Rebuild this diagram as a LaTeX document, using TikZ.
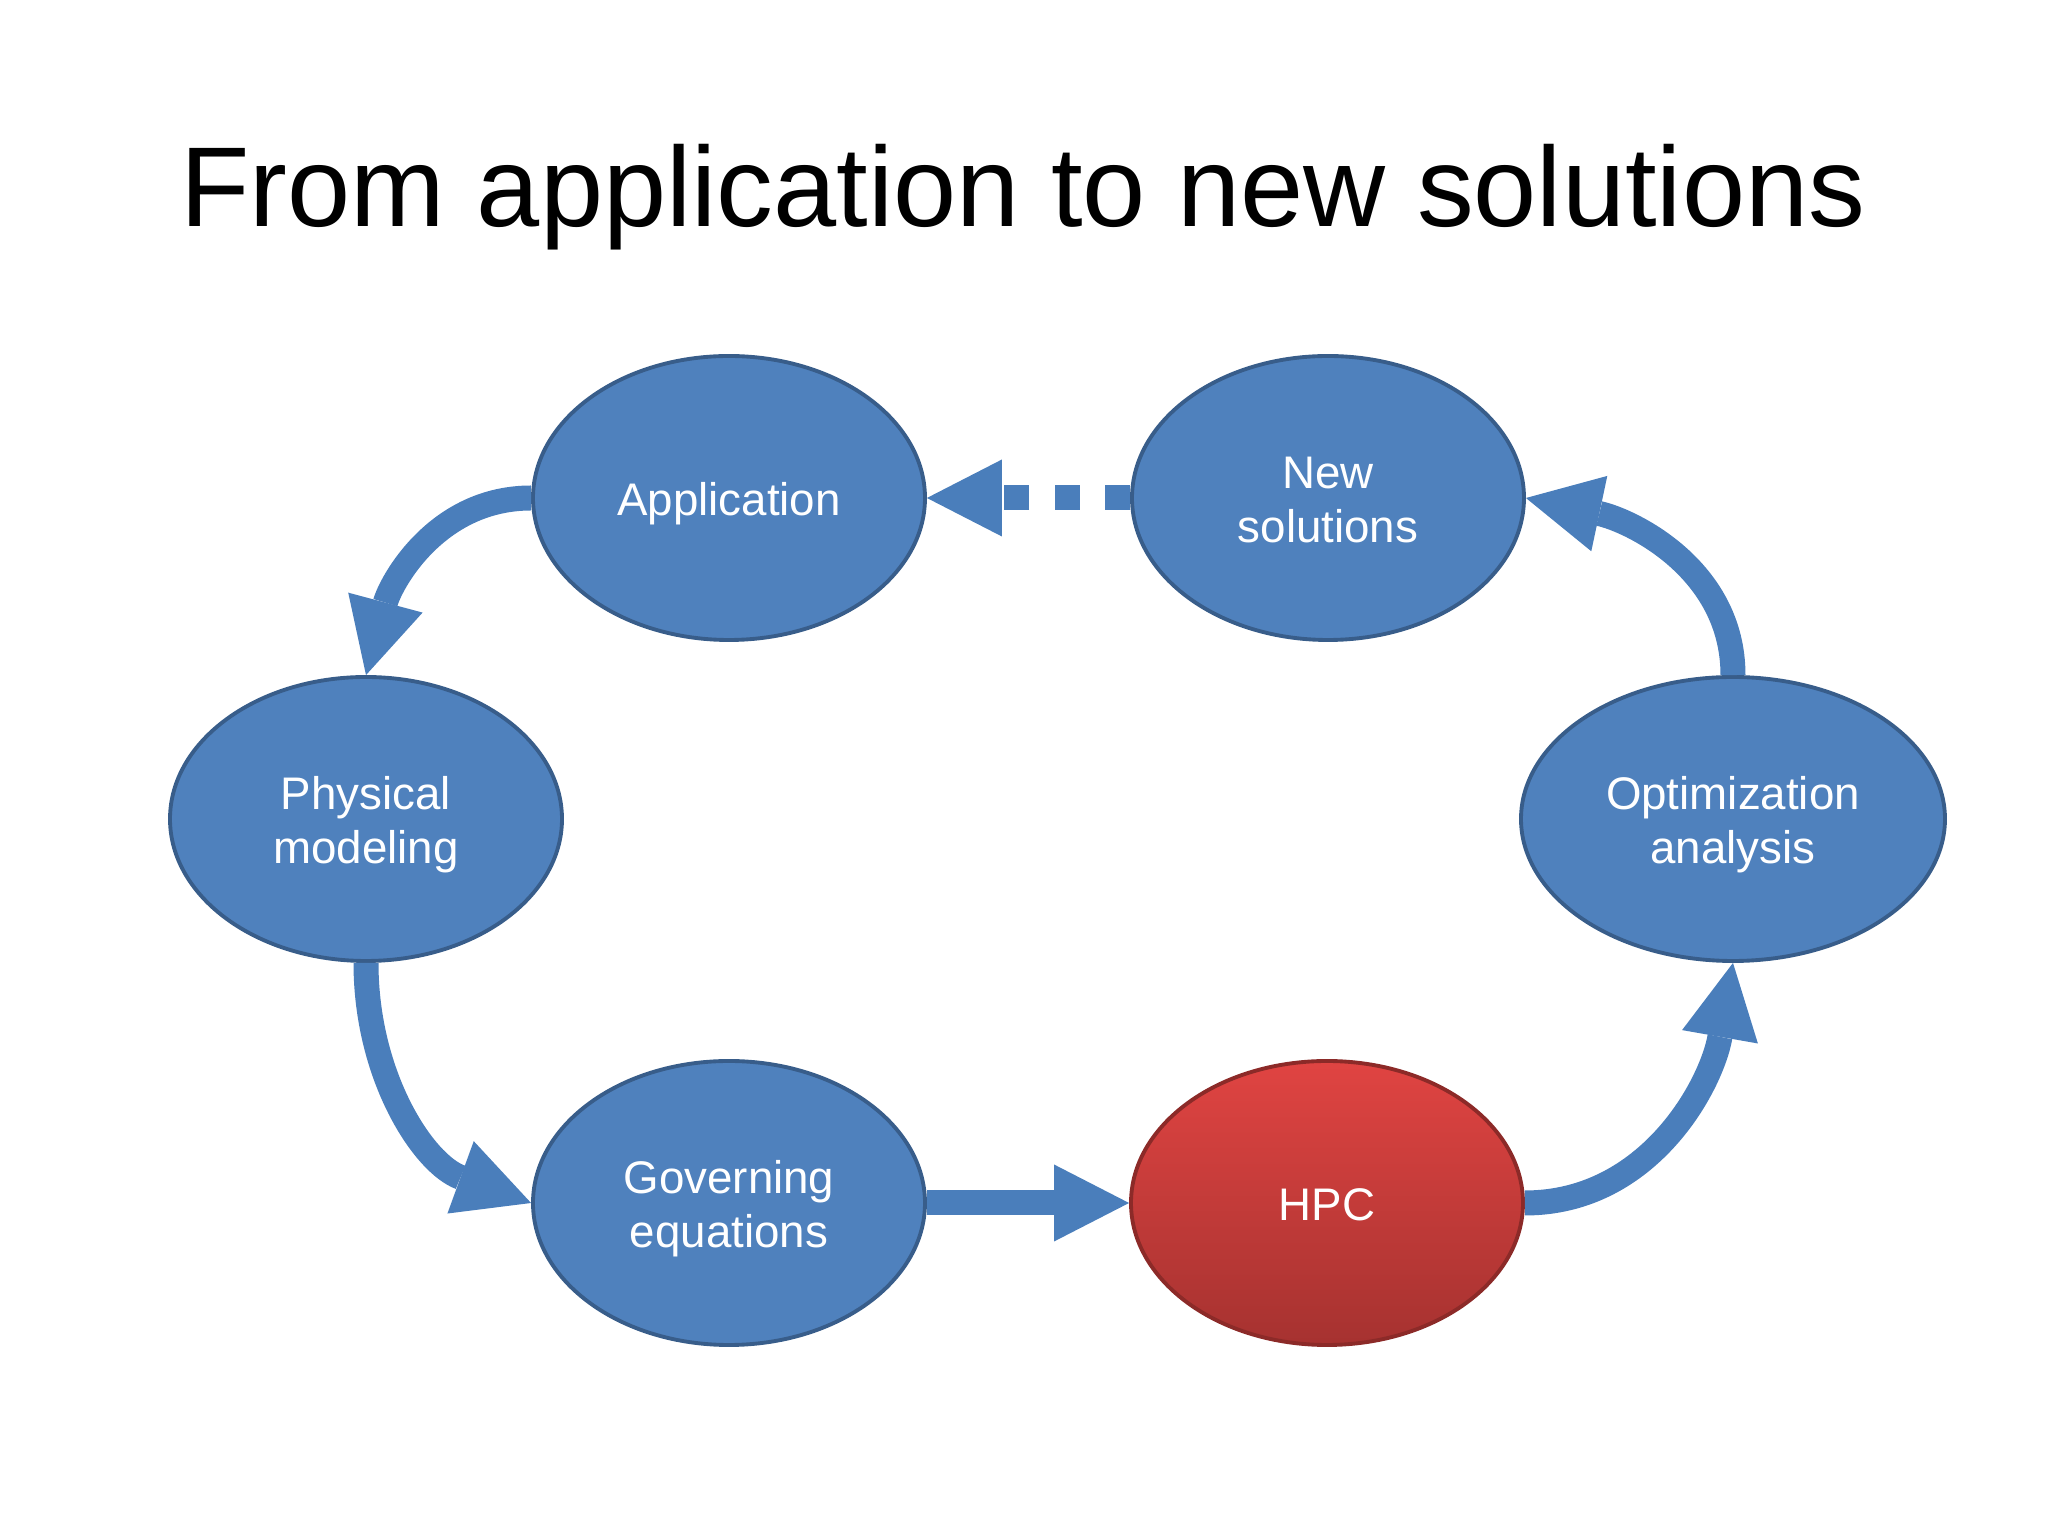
\documentclass[tikz,border=0pt]{standalone}
\usepackage{fontspec}
\setmainfont{Liberation Sans}
\usetikzlibrary{arrows.meta,shapes.geometric}
\definecolor{bubblefill}{RGB}{79,129,189}
\definecolor{bubbleline}{RGB}{56,93,138}
\definecolor{flowblue}{RGB}{74,126,187}
\definecolor{hpctop}{RGB}{224,68,66}
\definecolor{hpcbot}{RGB}{166,50,48}
\definecolor{hpcline}{RGB}{140,42,40}
\tikzset{
	bubble/.style={ellipse,minimum width=3.92cm,minimum height=2.84cm,
		fill=bubblefill,draw=bubbleline,line width=1.1pt,text=white,
		align=center,font=\fontsize{13}{15.4}\selectfont,
		text height=28.6pt,text depth=3pt},
	oneline/.style={text height=13.2pt},
	flow/.style={draw=flowblue,line width=0.25cm,
		-{Triangle[width=0.77cm,length=0.75cm,line width=0pt]}}
}
\begin{document}
\begin{tikzpicture}
	\useasboundingbox (0,0) rectangle (20.48,15.35);
	% Title
	\node[anchor=base,font=\fontsize{32.3}{38}\selectfont] (title) at (10.23,13.08) {From application to new solutions};
	% Define the nodes
	\node[bubble,oneline] (app) at (7.29,10.37) {Application};
	\node[bubble] (new) at (13.28,10.37) {New\\solutions};
	\node[bubble] (phys) at (3.66,7.16) {Physical\\modeling};
	\node[bubble,minimum width=4.24cm] (opt) at (17.33,7.16) {Optimization\\analysis};
	\node[bubble] (gov) at (7.29,3.32) {Governing\\equations};
	\node[bubble,oneline,draw=hpcline,top color=hpctop,bottom color=hpcbot] (hpc) at (13.27,3.32) {HPC};
	% Draw the arrows
	\draw[flow] (app.west) to[out=180,in=75] (phys.north);
	\draw[flow] (phys.south) to[out=-90,in=160] (gov.west);
	\draw[flow] (gov.east) -- (hpc.west);
	\draw[flow] (hpc.east) to[out=0,in=-100] (opt.south);
	\draw[flow] (opt.north) to[out=90,in=-12] (new.east);
	% Dashed feedback
	\draw[flow,dash pattern=on 0.25cm off 0.255cm] (new.west) -- (app.east);
\end{tikzpicture}
\end{document}
